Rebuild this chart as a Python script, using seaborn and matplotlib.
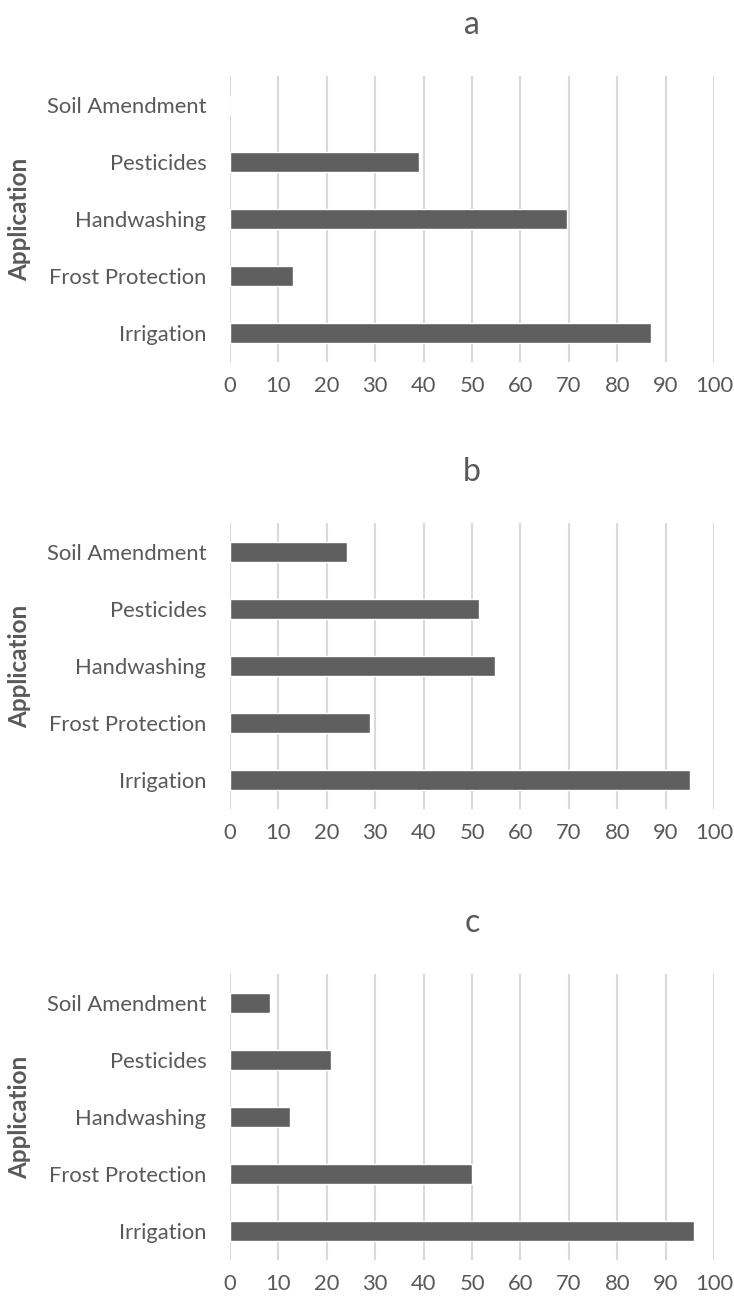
import matplotlib
matplotlib.use("Agg")
import matplotlib.pyplot as plt
import seaborn as sns
import pandas as pd

categories = ["Soil Amendment", "Pesticides", "Handwashing", "Frost Protection", "Irrigation"]
values_a = [0, 39.1, 69.6, 13.0, 87.0]
values_b = [24.1, 51.5, 54.8, 29.0, 95.1]
values_c = [8.3, 20.9, 12.4, 50.0, 95.8]
panel_titles = ["a", "b", "c"]
x_ticks = [0, 10, 20, 30, 40, 50, 60, 70, 80, 90, 100]
y_label = "Application"

sns.set_theme(style="white")
plt.rcParams["font.family"] = ["Lato", "DejaVu Sans"]

W, H = 734, 1302
fig = plt.figure(figsize=(W / 100, H / 100), dpi=100)
fig.patch.set_facecolor("white")

TEXT = "#595959"
BAR = "#5f5f5f"
GRID = "#d9d9d9"

tops = [76, 523, 974]
ax_h = 286
left, right = 230, 714

for title, vals, top in zip(panel_titles, [values_a, values_b, values_c], tops):
    ax = fig.add_axes([left / W, 1 - (top + ax_h) / H, (right - left) / W, ax_h / H])
    df = pd.DataFrame({"Application": categories, "Value": vals})
    sns.barplot(data=df, x="Value", y="Application", order=categories,
                color=BAR, saturation=1, width=0.35, ax=ax)
    ax.set_xlim(0, 100)
    ax.set_ylim(len(categories) - 0.5, -0.5)
    ax.set_xticks(x_ticks)
    ax.set_xticklabels([str(t) for t in x_ticks])
    ax.set_axisbelow(True)
    ax.xaxis.grid(True, color=GRID, linewidth=1.5)
    ax.yaxis.grid(False)
    for s in ax.spines.values():
        s.set_visible(False)
    ax.tick_params(axis="both", length=0, labelsize=15.8, labelcolor=TEXT)
    ax.tick_params(axis="y", pad=17)
    ax.tick_params(axis="x", pad=10)
    ax.set_xlabel("")
    ax.set_ylabel(y_label, fontsize=17.5, fontweight="bold", color=TEXT)
    ax.yaxis.set_label_coords((31 - left) / (right - left), 0.5)
    ax.set_title(title, fontsize=23, color=TEXT, pad=30)

fig.savefig("out.png", dpi=100, facecolor="white")
